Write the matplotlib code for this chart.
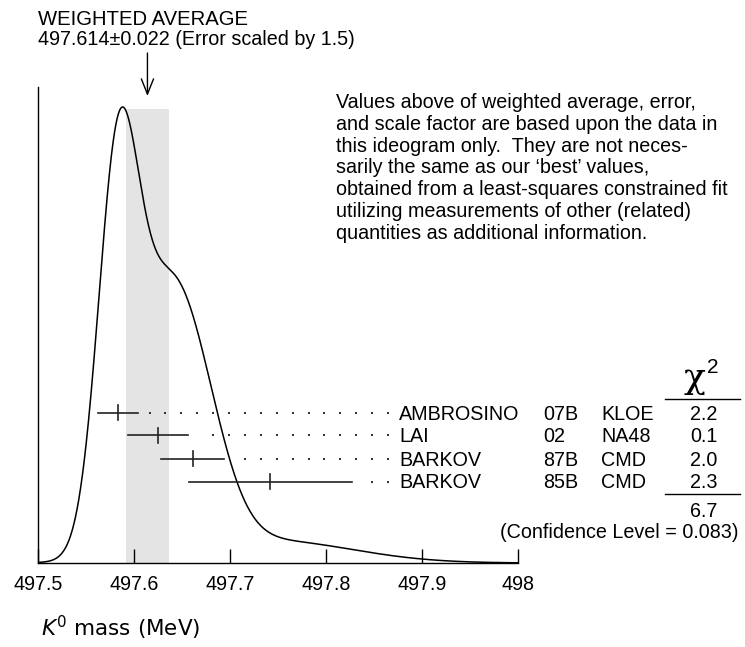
import numpy as np
import matplotlib
matplotlib.use("Agg")
import matplotlib.pyplot as plt
from matplotlib import transforms

# ---------------- data ----------------
authors = ["AMBROSINO", "LAI", "BARKOV", "BARKOV"]
years = ["07B", "02", "87B", "85B"]
experiments = ["KLOE", "NA48", "CMD", "CMD"]
values = [497.583, 497.625, 497.661, 497.742]
errors = [0.021, 0.031, 0.033, 0.085]
chi2 = [2.2, 0.1, 2.0, 2.3]
chi2_total = 6.7
conf_level = 0.083
w_mean = 497.614
w_err = 0.022
err_scale = 1.5
x_ticks = [497.5, 497.6, 497.7, 497.8, 497.9, 498.0]
x_ticklabels = ["497.5", "497.6", "497.7", "497.8", "497.9", "498"]
note_lines = [
    "Values above of weighted average, error,",
    "and scale factor are based upon the data in",
    "this ideogram only.  They are not neces-",
    "sarily the same as our \u2018best\u2019 values,",
    "obtained from a least-squares constrained fit",
    "utilizing measurements of other (related)",
    "quantities as additional information.",
]

# ---------------- figure ----------------
W, H = 745, 647
fig = plt.figure(figsize=(W / 100, H / 100), dpi=100)
FONT = "Liberation Sans"
FS = 14.2

def fx(p):
    return p / W

def fy(p):
    return 1 - p / H

ax = fig.add_axes([fx(38), fy(563), 480 / W, (563 - 87) / H])

# ideogram: sum of Gaussians, area proportional to 1/error
xs = np.linspace(497.5, 498.0, 1500)
ys = np.zeros_like(xs)
for v, e in zip(values, errors):
    ys += (1.0 / e) * np.exp(-0.5 * ((xs - v) / e) ** 2) / (e * np.sqrt(2 * np.pi))
peak = ys.max()
ax.set_xlim(497.5, 498.0)
ax.set_ylim(0, peak / 0.958)

# shaded band of weighted average
ax.fill_between([w_mean - w_err, w_mean + w_err], 0, peak * 0.996,
                color="#e4e4e4", lw=0, zorder=1)
ax.plot(xs, ys, color="black", lw=1.1, zorder=3)

# spines / ticks
for s in ["top", "right"]:
    ax.spines[s].set_visible(False)
ax.spines["left"].set_linewidth(1.0)
ax.spines["bottom"].set_linewidth(1.0)
ax.set_yticks([])
ax.set_xticks(x_ticks)
ax.set_xticklabels(x_ticklabels, fontsize=FS, family=FONT)
ax.tick_params(axis="x", direction="in", length=10, width=1.0, pad=9)

# measurements rows (x in data, y in figure pixels)
trans = transforms.blended_transform_factory(ax.transData, fig.transFigure)
row_y = [412.5, 435, 458.5, 481.5]
dot_last = 497.8646
dot_step = 0.01656
for v, e, yp in zip(values, errors, row_y):
    y = fy(yp)
    ax.plot([v - e, v + e], [y, y], transform=trans, color="#222222", lw=1.2,
            clip_on=False, zorder=4)
    ax.plot([v, v], [fy(yp - 7.5), fy(yp + 7.5)], transform=trans,
            color="#222222", lw=1.2, clip_on=False, zorder=4)
    dx = []
    k = 0
    while True:
        d = dot_last - k * dot_step
        if d < v + e + 0.0115:
            break
        dx.append(d)
        k += 1
    ax.scatter(dx, [y] * len(dx), transform=trans, s=1.3, color="#333333",
               marker="s", lw=0, clip_on=False, zorder=4)

# row texts
for a, yr, ex, c, yp in zip(authors, years, experiments, chi2, row_y):
    b = fy(yp + 7)
    fig.text(fx(399), b, a, fontsize=FS, family=FONT, va="baseline")
    fig.text(fx(543), b, yr, fontsize=FS, family=FONT, va="baseline")
    fig.text(fx(601), b, ex, fontsize=FS, family=FONT, va="baseline")
    fig.text(fx(704), b, f"{c:.1f}", fontsize=FS, family=FONT, va="baseline",
             ha="center")

# chi^2 header and rules
fig.text(fx(684), fy(388), "\u03c7", fontsize=26, family="DejaVu Serif",
         va="baseline")
fig.text(fx(707), fy(373), "2", fontsize=15, family=FONT, va="baseline")
fig.add_artist(plt.Line2D([fx(665), fx(740)], [fy(399), fy(399)], color="black", lw=1.0))
fig.add_artist(plt.Line2D([fx(665), fx(740)], [fy(494), fy(494)], color="black", lw=1.0))
fig.text(fx(704), fy(517), f"{chi2_total:.1f}", fontsize=FS, family=FONT,
         va="baseline", ha="center")
fig.text(fx(739), fy(538), f"(Confidence Level = {conf_level:.3f})", fontsize=FS,
         family=FONT, va="baseline", ha="right")

# weighted average header and arrow
fig.text(fx(38), fy(25), "WEIGHTED AVERAGE", fontsize=14.6, family=FONT, va="baseline")
fig.text(fx(38), fy(45), f"{w_mean:.3f}\u00b1{w_err:.3f} (Error scaled by {err_scale})",
         fontsize=14.2, family=FONT, va="baseline")
ax.annotate("", xy=(w_mean, fy(96)), xytext=(w_mean, fy(53)),
            xycoords=trans, textcoords=trans,
            arrowprops=dict(arrowstyle="->,head_length=0.55,head_width=0.22",
                            mutation_scale=20, lw=1.0, color="black",
                            shrinkA=0, shrinkB=0), annotation_clip=False)

# note
for i, line in enumerate(note_lines):
    fig.text(fx(336), fy(108 + i * 21.8), line, fontsize=FS, family=FONT,
             va="baseline")

# x label
fig.text(fx(41), fy(636), r"$K^0$ mass (MeV)", fontsize=15.5, va="baseline",
         family="DejaVu Sans")

fig.savefig("out.png", dpi=100)
